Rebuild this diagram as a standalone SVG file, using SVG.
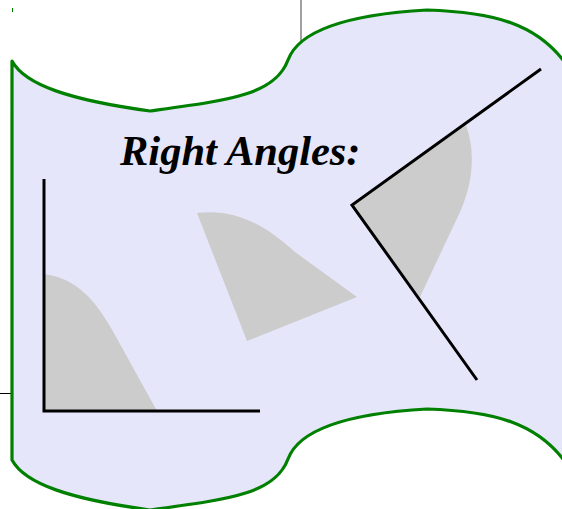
<svg xmlns="http://www.w3.org/2000/svg" width="562" height="509" viewBox="0 0 562 509">
<style>
.wedge{fill:#cccccc;stroke:none}
.arm{fill:none;stroke:#000;stroke-width:3;stroke-linecap:butt;stroke-linejoin:miter}
.title{font-family:"Liberation Serif","Times New Roman",serif;font-weight:bold;font-style:italic;font-size:42.5px;fill:#000}
</style>
<rect width="562" height="509" fill="#fff"/>
<line x1="301" y1="0" x2="301" y2="45" stroke="#808080" stroke-width="1.5"/>
<line x1="0" y1="393.5" x2="12" y2="393.5" stroke="#000" stroke-width="1"/>
<line x1="12.5" y1="8" x2="12.5" y2="12" stroke="#008000" stroke-width="1"/>
<g id="banner">
<path d="M12,61 C25,85 70,100 150,111 C230,100 275,95 288,60 C298,33 340,15 427,10 C490,12 540,22 570,70 L570,469 C540,421 490,411 427,409 C340,414 298,432 288,459 C275,494 230,499 150,510 C70,499 25,484 12,460 Z" fill="#e6e6fa" stroke="#008000" stroke-width="3.2" stroke-linejoin="round"/>
</g>
<g id="title">
<text class="title" x="120" y="165">Right Angles:</text>
</g>
<g id="angle-left">
<path class="wedge" d="M44,274 C75,278 95,298 115,335 L157,411 L44,411 Z"/>
<path class="arm" d="M44,179 L44,411 L260,411"/>
</g>
<g id="angle-middle">
<path class="wedge" d="M197,213 C235,208 265,225 295,252 L357,297 L247,341 Z"/>
</g>
<g id="angle-right">
<path class="wedge" d="M352,205 L466,125 C475,150 474,180 460,212 L420,297 Z"/>
<path class="arm" d="M541,69 L352,205 L477,380"/>
</g>
</svg>
